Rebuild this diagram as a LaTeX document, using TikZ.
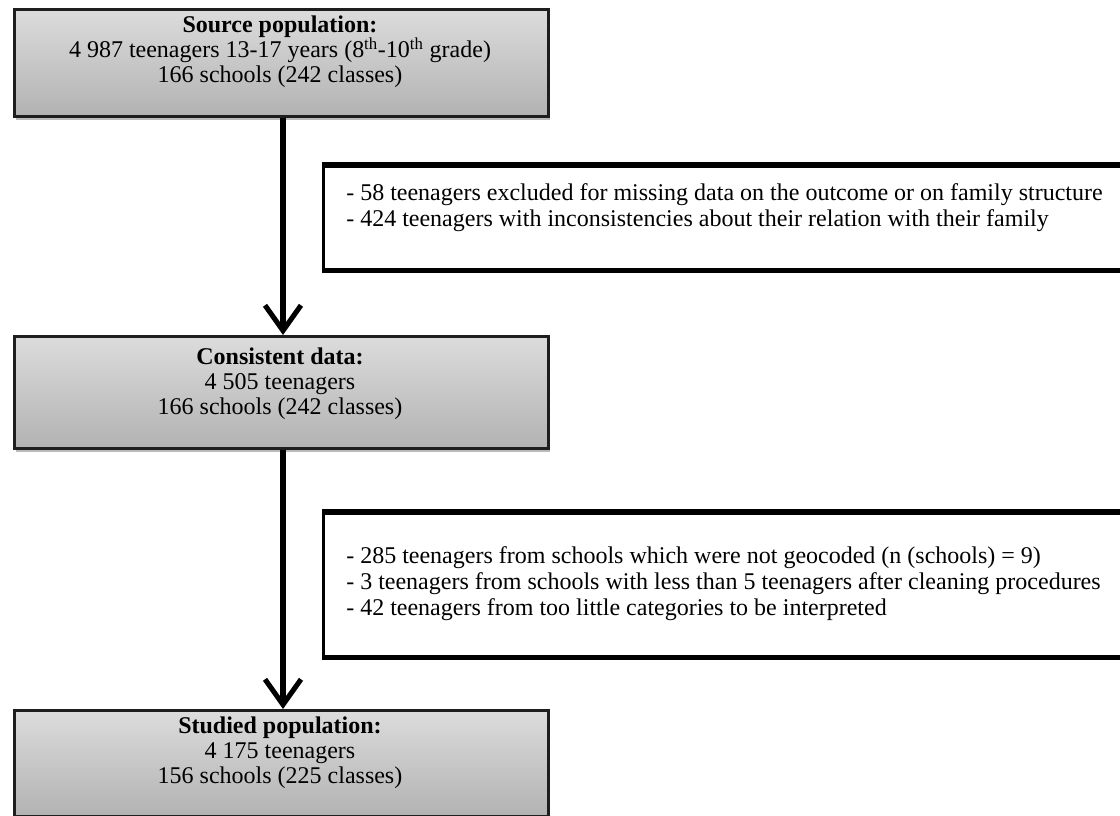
\documentclass[tikz,border=0pt]{standalone}
\usepackage{fontspec}
\setmainfont{Liberation Serif}
\usetikzlibrary{arrows.meta,shadows}
\definecolor{boxtop}{HTML}{DCDCDC}
\definecolor{boxbot}{HTML}{B2B2B2}
\definecolor{boxline}{HTML}{1E1E1E}
\tikzset{
  mainbox/.style={draw=boxline, line width=2.2pt, top color=boxtop, bottom color=boxbot,
    anchor=north west, minimum width=534*0.75pt, inner sep=0pt,
    drop shadow={shadow xshift=1.5pt, shadow yshift=-3pt, fill=black!30, opacity=0.9}},
  maintext/.style={anchor=base, inner sep=0pt, font=\fontsize{18pt}{19.5pt}\selectfont},
  sidebox/.style={draw=black, line width=2pt, fill=white, anchor=north west,
    minimum width=820*0.75pt, inner sep=0pt},
  sideedge/.style={draw=black, line width=3.8pt},
  sidetext/.style={anchor=base west, inner sep=0pt, font=\fontsize{18pt}{19.5pt}\selectfont},
  flow/.style={line width=3.8pt, -{Straight Barb[length=19pt,width=27pt]}}
}
\begin{document}
\begin{tikzpicture}[x=0.75pt,y=-0.75pt]
\useasboundingbox (0,0) rectangle (1120,816);
% side boxes (they run past the right border)
\node[sidebox, minimum height=103*0.75pt] (ex1) at (322,165) {};
\draw[sideedge] (ex1.north west) -- (ex1.north east);
\draw[sideedge] (ex1.south west) -- (ex1.south east);
\node[sidetext] (ex1a) at (346,201) {- 58 teenagers excluded for missing data on the outcome or on family structure};
\node[sidetext] (ex1b) at (346,227) {- 424 teenagers with inconsistencies about their relation with their family};
\node[sidebox, minimum height=143*0.75pt] (ex2) at (322,512) {};
\draw[sideedge] (ex2.north west) -- (ex2.north east);
\draw[sideedge] (ex2.south west) -- (ex2.south east);
\node[sidetext] (ex2a) at (346,563) {- 285 teenagers from schools which were not geocoded (n (schools) = 9)};
\node[sidetext] (ex2b) at (346,589) {- 3 teenagers from schools with less than 5 teenagers after cleaning procedures};
\node[sidetext] (ex2c) at (346,615) {- 42 teenagers from too little categories to be interpreted};
% main boxes
\node[mainbox, minimum height=107*0.75pt] (src) at (13,8) {};
\node[maintext] (src1) at (280,33) {\textbf{Source population:}};
\node[maintext] (src2) at (280,58) {4 987 teenagers 13-17 years (8\textsuperscript{th}-10\textsuperscript{th} grade)};
\node[maintext] (src3) at (280,83) {166 schools (242 classes)};
\node[mainbox, minimum height=112*0.75pt] (cons) at (13,335) {};
\node[maintext] (cons1) at (280,364) {\textbf{Consistent data:}};
\node[maintext] (cons2) at (280,389) {4 505 teenagers};
\node[maintext] (cons3) at (280,414) {166 schools (242 classes)};
\node[mainbox, minimum height=106*0.75pt] (stud) at (13,709) {};
\node[maintext] (stud1) at (280,733) {\textbf{Studied population:}};
\node[maintext] (stud2) at (280,758) {4 175 teenagers};
\node[maintext] (stud3) at (280,783) {156 schools (225 classes)};
% connectors
\coordinate (axis) at (283,0);
\draw[flow] (src.south -| axis) -- (cons.north -| axis);
\draw[flow] (cons.south -| axis) -- (stud.north -| axis);
\end{tikzpicture}
\end{document}
